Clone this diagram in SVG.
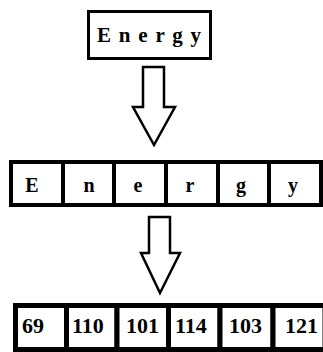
<svg xmlns="http://www.w3.org/2000/svg" width="323" height="352" viewBox="0 0 323 352">
<style>
  .bg { fill: #ffffff; }
  .box { fill: #ffffff; stroke: #000000; stroke-width: 3; }
  .cell2 { fill: #ffffff; stroke: #000000; stroke-width: 4; }
  .cell3 { fill: #ffffff; stroke: #000000; stroke-width: 5; }
  .arrow { fill: #ffffff; stroke: #000000; stroke-width: 2.5; stroke-linejoin: miter; }
  .t { font-family: "Liberation Serif", "Times New Roman", serif; font-weight: bold; fill: #000000; }
  .t1 { font-size: 21px; }
  .t2 { font-size: 20px; text-anchor: middle; }
  .t3 { font-size: 22px; }
</style>
<rect class="bg" x="0" y="0" width="323" height="352"/>

<g id="word">
  <rect class="box" x="88.5" y="11.5" width="122" height="47"/>
  <text class="t t1" x="97" y="42" textLength="104" lengthAdjust="spacing">E n e r g y</text>
</g>

<g id="connectors">
  <polygon class="arrow" points="143,67 164,67 164,107 175,107 154,145 133,107 143,107"/>
  <polygon class="arrow" points="149,217 170,217 170,253 180,253 160,293 141,253 149,253"/>
</g>

<g id="letters">
  <g id="letter-E"><rect class="cell2" x="11" y="162" width="52" height="43"/><text class="t t2" x="32" y="192">E</text></g>
  <g id="letter-n"><rect class="cell2" x="63" y="162" width="51" height="43"/><text class="t t2" x="89" y="192">n</text></g>
  <g id="letter-e"><rect class="cell2" x="114" y="162" width="52" height="43"/><text class="t t2" x="138" y="192">e</text></g>
  <g id="letter-r"><rect class="cell2" x="166" y="162" width="52" height="43"/><text class="t t2" x="190" y="192">r</text></g>
  <g id="letter-g"><rect class="cell2" x="218" y="162" width="51" height="43"/><text class="t t2" x="241" y="192">g</text></g>
  <g id="letter-y"><rect class="cell2" x="269" y="162" width="52" height="43"/><text class="t t2" x="293" y="192">y</text></g>
</g>

<g id="codes">
  <g id="code-69"><rect class="cell3" x="15.5" y="305.5" width="51" height="44"/><text class="t t3" x="22" y="333">69</text></g>
  <g id="code-110"><rect class="cell3" x="66.5" y="305.5" width="50.5" height="44"/><text class="t t3" x="72" y="333">110</text></g>
  <g id="code-101"><rect class="cell3" x="117" y="305.5" width="51.5" height="44"/><text class="t t3" x="126" y="333">101</text></g>
  <g id="code-114"><rect class="cell3" x="168.5" y="305.5" width="51.5" height="44"/><text class="t t3" x="175" y="333">114</text></g>
  <g id="code-103"><rect class="cell3" x="220" y="305.5" width="53" height="44"/><text class="t t3" x="229" y="333">103</text></g>
  <g id="code-121"><rect class="cell3" x="273" y="305.5" width="52" height="44"/><text class="t t3" x="285" y="333">121</text></g>
</g>
</svg>
